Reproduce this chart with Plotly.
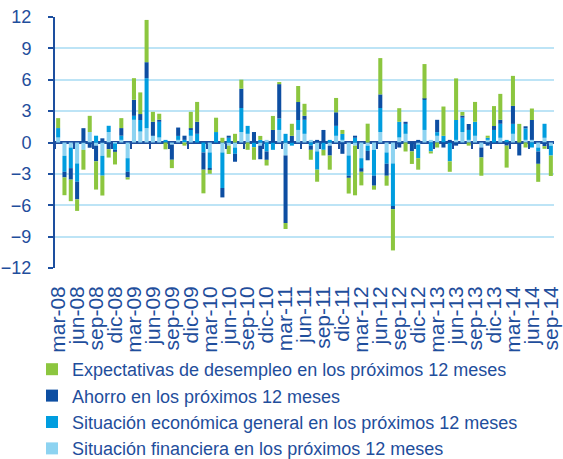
import plotly.graph_objects as go

# monthly categories mar-08 .. sep-14
month_names = ["ene", "feb", "mar", "abr", "may", "jun", "jul", "ago", "sep", "oct", "nov", "dic"]
categories = []
for k in range(79):
    mi = (2 + k) % 12
    yr = 2008 + (2 + k) // 12
    categories.append(f"{month_names[mi]}-{str(yr)[2:]}")

situacion_financiera = [
    0.48, -1.27, -0.48, -2.0, -0.7, 1.0, -0.3, -1.27, 1.0, -0.1,
    0.25, -1.5, 2.17, 1.05, 1.37, 0.64, 0.48, 0.0, -0.2, 0.25,
    0.1, 0.64, 0.0, 0.0, -0.95, 0.0, -0.95, -0.3, -0.48, 1.0,
    0.83, 0.0, -0.3, 0.25, 0.0, 1.2, -1.24, 0.0, 1.2, 0.83,
    0.25, -0.85, 0.0, -0.3, 0.64, 0.25, -1.24, -0.3, -1.5, -0.3,
    -0.7, 1.0, -0.95, -2.0, 0.48, 0.83, 0.0, -0.2, 1.2, 0.25,
    0.64, 0.0, 0.0, 0.25, 1.0, 0.25, 0.64, -0.48, 0.25, 0.0,
    0.45, 0.0, 0.83, 0.0, 0.25, 0.25, -0.48, 0.45, -0.3,
]
situacion_economica = [
    0.9, -1.53, -1.97, -1.75, 0.0, 0.0, 0.65, -1.9, 0.6, -0.6,
    0.4, -1.3, 0.38, 1.1, 4.78, 0.0, 1.5, 0.25, 0.0, 0.38,
    0.15, 0.57, 0.83, -0.95, -1.5, 1.0, -3.4, 0.45, -0.6, 2.3,
    0.76, -0.45, 0.25, -0.86, -0.7, 1.1, 0.83, -0.3, 0.95, 1.34,
    -0.3, -1.75, -0.7, 0.25, 0.95, 0.57, -1.94, 0.45, -0.95, -0.5,
    -2.48, 2.3, -1.08, -4.07, 1.5, 0.95, 0.0, -1.3, 2.87, -0.85,
    0.35, 0.64, -1.8, 1.9, 1.37, 0.95, 1.34, 0.0, 0.2, 1.2,
    1.34, 0.25, 0.95, 0.0, 1.1, -0.48, -0.38, 1.34, -0.95,
]
ahorro = [
    0.0, -0.54, -1.1, -1.69, 1.37, -0.5, -1.5, 0.4, -0.64, -0.2,
    0.73, -0.54, 1.53, 0.57, 1.53, 1.34, 0.2, 0.0, -1.45, 0.8,
    0.4, 0.16, 1.15, -1.65, -0.16, 0.0, -0.9, 0.2, -0.76, 1.85,
    0.0, 1.0, -1.3, -0.8, 1.2, 3.28, -6.46, 0.64, 1.72, 0.38,
    -0.4, 0.25, 1.2, -0.95, 1.3, -1.08, -0.2, 0.2, -0.35, -0.9,
    -0.95, 1.3, -1.15, -0.3, -0.48, 0.2, -0.85, 0.25, 0.15, 0.0,
    1.18, -0.48, 0.25, -0.3, 0.2, 0.57, 0.0, -0.95, -0.3, 0.38,
    0.38, -0.3, 1.72, -1.24, 0.2, 1.9, -1.18, -0.35, 0.0,
]
expectativas_desempleo = [
    0.95, -1.7, -2.06, -1.1, -1.9, 1.55, -2.7, -1.9, -0.8, -1.2,
    0.95, -0.2, 2.07, 2.07, 4.04, 0.95, 0.57, -0.65, -0.8, 0.0,
    -0.3, 1.56, 1.9, -2.26, -0.38, 1.37, 0.45, -0.8, 0.83, 0.86,
    -0.7, -1.2, 0.38, -0.54, 1.34, 0.2, -0.57, 1.15, 1.53, 1.15,
    -0.95, -1.15, -0.54, -1.35, 1.37, 0.38, -1.5, -4.75, -1.3, 1.8,
    -0.38, 3.47, -0.95, -3.95, 1.3, -0.86, -1.2, -1.1, 3.28, -0.2,
    -0.48, 2.8, -1.0, 3.98, 0.35, -0.3, 1.9, -1.75, 0.2, 1.9,
    2.48, -2.1, 2.87, 1.78, -0.48, 1.1, -1.72, -0.25, -1.95,
]

series_names = [
    "Situación financiera en los próximos 12 meses",
    "Situación económica general en los próximos 12 meses",
    "Ahorro en los próximos 12 meses",
    "Expectativas de desempleo en los próximos 12 meses",
]
series_values = [situacion_financiera, situacion_economica, ahorro, expectativas_desempleo]
series_colors = ["#8dd3f1", "#009ddf", "#0d4ea2", "#8cc63f"]

y_ticks = [-12, -9, -6, -3, 0, 3, 6, 9, 12]

TEXT = "#1f4e9c"
AXIS = "#1d4f9f"
FONT = "Liberation Sans, Arial, sans-serif"

x_idx = list(range(len(categories)))
label_idx = x_idx[::3]
label_text = [categories[i] for i in label_idx]
boundary_ticks = [i - 0.5 for i in label_idx]

fig = go.Figure()
for name, vals, col in zip(series_names, series_values, series_colors):
    fig.add_trace(go.Bar(x=x_idx, y=vals, name=name, marker=dict(color=col, line=dict(width=0))))

# helper (invisible) trace so the tick axis on the zero line is drawn
fig.add_trace(go.Scatter(x=[x_idx[0], x_idx[-1]], y=[0, 0], xaxis="x2", mode="lines",
                         line=dict(width=0), showlegend=False, hoverinfo="skip"))

W, H = 563, 459
fig.update_layout(
    width=W, height=H,
    margin=dict(l=55, r=9, t=17, b=191, autoexpand=False),
    paper_bgcolor="white", plot_bgcolor="white",
    barmode="relative", bargap=0.36,
    font=dict(family=FONT, color=TEXT, size=18),
    xaxis=dict(
        range=[-0.5, len(categories) - 0.5], automargin=False,
        tickmode="array", tickvals=label_idx, ticktext=label_text,
        tickangle=-90, ticks="", showgrid=False, zeroline=False, showline=False,
        tickfont=dict(size=21, color=TEXT), ticklabelstandoff=13,
        ticklabeloverflow="allow",
    ),
    xaxis2=dict(
        overlaying="x", anchor="free", position=0.5, side="bottom", automargin=False,
        range=[-0.5, len(categories) - 0.5],
        tickmode="array", tickvals=boundary_ticks, showticklabels=False,
        ticks="outside", ticklen=5, tickwidth=2, tickcolor=AXIS,
        showgrid=False, zeroline=False, showline=False,
    ),
    yaxis=dict(
        range=[-12, 12], tickmode="array", tickvals=y_ticks, automargin=False,
        showgrid=True, gridcolor="#bde4f6", gridwidth=2,
        zeroline=True, zerolinecolor=AXIS, zerolinewidth=2.5,
        showline=True, linecolor=AXIS, linewidth=2,
        ticks="outside", ticklen=5, tickwidth=2, tickcolor=AXIS,
        tickfont=dict(size=18, color=TEXT), ticklabelstandoff=13,
        ticklabeloverflow="allow",
    ),
    legend=dict(
        orientation="v", traceorder="reversed",
        xref="container", yref="container",
        x=32 / W, xanchor="left", y=(H - 351) / H, yanchor="top",
        font=dict(size=18, color=TEXT), bgcolor="rgba(0,0,0,0)",
    ),
    showlegend=True,
)

# remove the default page margin so the figure sits at the window's top-left corner
fig.write_html("out.html", config={"displayModeBar": False},
               post_script="document.body.style.margin='0';")
